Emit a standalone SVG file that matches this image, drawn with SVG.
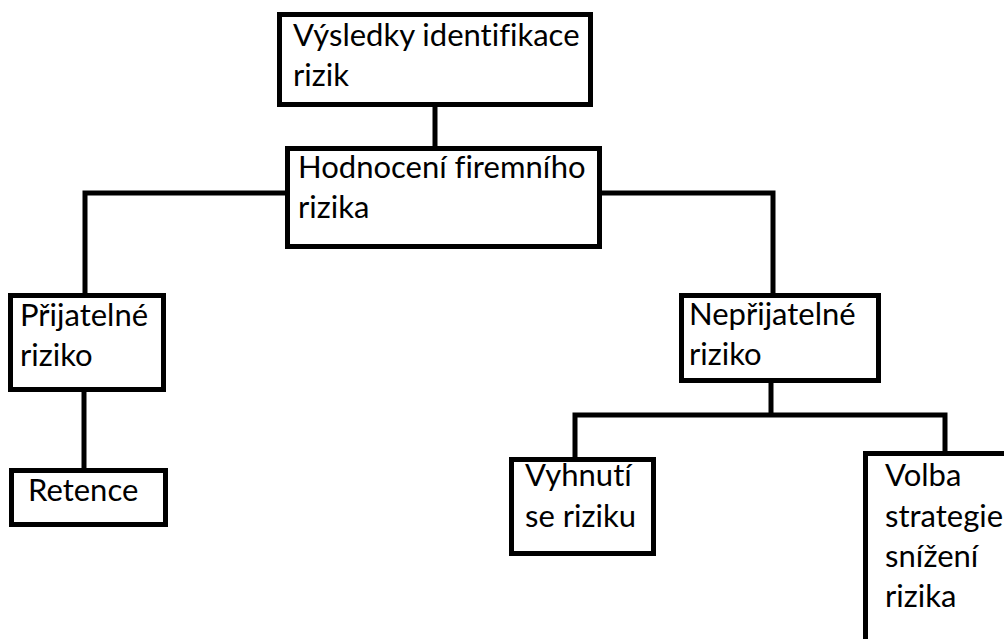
<svg xmlns="http://www.w3.org/2000/svg" width="1004" height="639" viewBox="0 0 1004 639">
<style>
.box{fill:#fff;stroke:#000;stroke-width:5}
.ln{fill:none;stroke:#000;stroke-width:5}
text{font-family:Lato,"Liberation Sans",Arial,sans-serif;font-size:31px;fill:#000;font-variant-ligatures:none;font-feature-settings:"liga" 0}
</style>
<rect width="1004" height="639" fill="#fff"/>
<g id="connectors">
<line class="ln" x1="435" y1="104" x2="435" y2="149"/>
<polyline class="ln" points="288,193 85,193 85,296"/>
<line class="ln" x1="84" y1="390" x2="84" y2="470"/>
<polyline class="ln" points="599,193 773,193 773,296"/>
<line class="ln" x1="771" y1="381" x2="771" y2="416"/>
<polyline class="ln" points="575,462 575,415 945,415 945,453"/>
</g>
<g id="n1"><rect class="box" x="279.5" y="14.5" width="311" height="90"/>
<text x="293" y="46">Výsledky identifikace</text><text x="293" y="86">rizik</text></g>
<g id="n2"><rect class="box" x="287.5" y="148.5" width="312" height="98"/>
<text x="298" y="178">Hodnocení firemního</text><text x="298" y="218">rizika</text></g>
<g id="n3"><rect class="box" x="10.5" y="295.5" width="153" height="94"/>
<text x="20" y="326">Přijatelné</text><text x="20" y="366">riziko</text></g>
<g id="n4"><rect class="box" x="11.5" y="470.5" width="154" height="54"/>
<text x="28" y="501">Retence</text></g>
<g id="n5"><rect class="box" x="681.5" y="295.5" width="197" height="85"/>
<text x="689" y="325">Nepřijatelné</text><text x="689" y="365">riziko</text></g>
<g id="n6"><rect class="box" x="511.5" y="459.5" width="142" height="94"/>
<text x="525" y="486">Vyhnutí</text><text x="525" y="527">se riziku</text></g>
<g id="n7"><rect class="box" x="865.5" y="453.5" width="200" height="200"/>
<text x="885" y="486">Volba</text><text x="885" y="527">strategie</text><text x="885" y="567">snížení</text><text x="885" y="607">rizika</text></g>
</svg>
